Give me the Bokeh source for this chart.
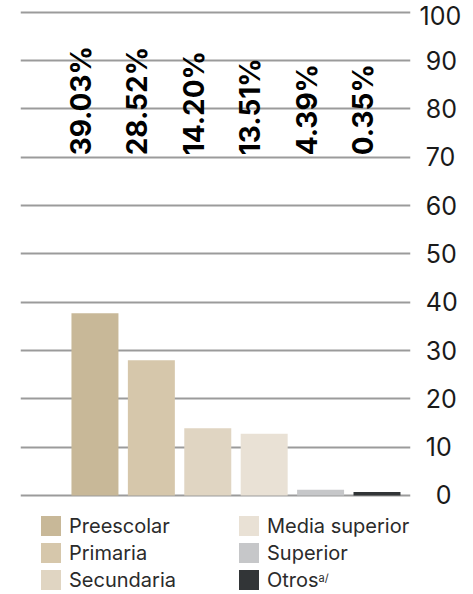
from math import pi
from bokeh.plotting import figure
from bokeh.models import FixedTicker, Legend, LegendItem, Label, ColumnDataSource, Range1d
from bokeh.core.properties import value
from bokeh.embed import file_html
from bokeh.resources import INLINE

categories = ["Preescolar", "Primaria", "Secundaria", "Media superior", "Superior", "Otros"]
values = [37.7, 28.0, 13.9, 12.8, 1.2, 0.7]
pct_labels = ["39.03%", "28.52%", "14.20%", "13.51%", "4.39%", "0.35%"]
colors = ["#c8b898", "#d6c7ab", "#e0d5c2", "#e9e1d5", "#c6c7c9", "#323537"]
y_ticks = list(range(0, 101, 10))

FONT = "Inter"
LABEL_BASE = 70.4

xs = list(range(len(categories)))
source = ColumnDataSource(dict(x=xs, top=values, cat=categories, color=colors,
                               label=pct_labels, base=[LABEL_BASE] * len(xs)))

# frame extends below zero so that the legend lives inside it
p = figure(frame_width=390, frame_height=584,
           x_range=Range1d(-1.32, 5.594), y_range=Range1d(-19.87, 101),
           output_backend="svg", toolbar_location=None,
           x_axis_location=None, y_axis_location="right",
           min_border_left=20, min_border_top=7, min_border_bottom=0, min_border_right=0)
p.outline_line_color = None
p.background_fill_color = "white"
p.border_fill_color = "white"
p.xgrid.visible = False

r = p.vbar(x="x", top="top", width=0.833, fill_color="color", line_color=None, source=source)

p.text(x="x", y="base", text="label", angle=pi / 2, text_align="left",
       text_baseline="middle", x_offset=-14,
       text_font=value(FONT), text_font_style="bold", text_font_size="28px",
       text_color="#000000", source=source)

p.ygrid.ticker = FixedTicker(ticks=y_ticks)
p.ygrid.grid_line_color = "#9b9b9b"
p.ygrid.grid_line_width = 2

pad = {1: "\u2007", 2: "\u2005", 3: ""}
ax = p.yaxis[0]
ax.ticker = FixedTicker(ticks=y_ticks)
ax.major_label_overrides = {t: pad[len(str(t))] + str(t) for t in y_ticks}
ax.axis_line_color = None
ax.major_tick_line_color = None
ax.minor_tick_line_color = None
ax.major_label_text_font = FONT
ax.major_label_text_font_size = "25px"
ax.major_label_text_color = "#1a1a1a"
ax.major_label_standoff = 3

items = [LegendItem(label=c, renderers=[r], index=i) for i, c in enumerate(categories)]
legend = Legend(items=items, location=(18, -1), orientation="vertical", nrows=3,
                glyph_width=25, glyph_height=25, label_standoff=6, spacing=2,
                padding=0, margin=0, border_line_color=None, background_fill_alpha=0,
                label_text_font=FONT, label_text_font_size="20px", label_text_color="#2b2b2b",
                label_width=165, label_height=20)
p.add_layout(legend)

sup = Label(x=298, y=14, x_units="screen", y_units="screen", text="a/",
            text_font=FONT, text_font_size="11px", text_color="#2b2b2b",
            text_baseline="alphabetic")
p.add_layout(sup)

open("out.html", "w").write(file_html(p, INLINE))
